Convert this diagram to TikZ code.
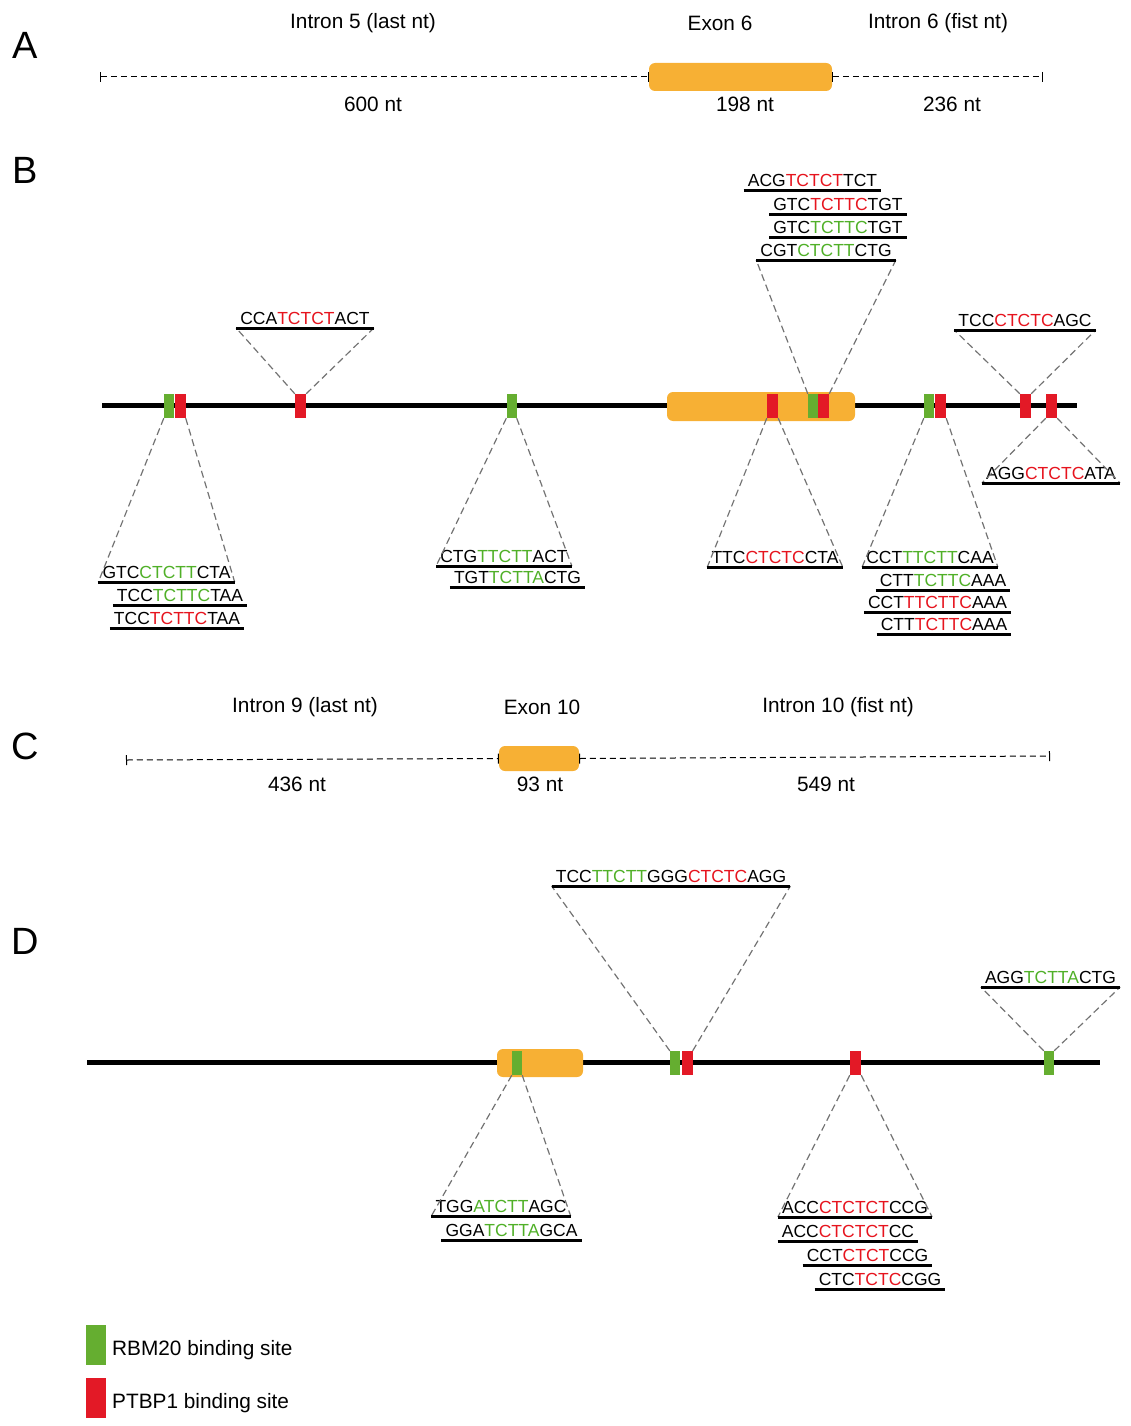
\documentclass[tikz,border=0pt]{standalone}
\usepackage{fontspec}
\setmainfont{Liberation Sans}
\usetikzlibrary{arrows.meta,positioning}
\definecolor{exorange}{RGB}{247,176,52}
\definecolor{rbmgreen}{RGB}{101,174,48}
\definecolor{ptbred}{RGB}{227,25,38}
\definecolor{rbmtext}{RGB}{80,176,40}
\definecolor{ptbtext}{RGB}{230,20,30}
\definecolor{zoomgray}{RGB}{115,115,115}
\newcommand{\rbmseq}[1]{\textcolor{rbmtext}{#1}}
\newcommand{\ptbseq}[1]{\textcolor{ptbtext}{#1}}
\tikzset{
  panel/.style={font=\fontsize{38}{40}\selectfont, inner sep=0pt},
  hdr/.style={font=\fontsize{20.8}{23}\selectfont, inner sep=0pt},
  seqlbl/.style={font=\fontsize{17.5}{19}\selectfont, inner xsep=4pt, inner ysep=3pt, anchor=south},
  uline/.style={line width=3pt},
  backbone/.style={line width=5pt},
  intron/.style={dash pattern=on 6pt off 4pt, line width=1pt, {Bar[width=10pt]}-{Bar[width=10pt]}},
  exon/.style={fill=exorange, rounded corners=6pt, inner sep=0pt},
  rbm/.style={fill=rbmgreen, minimum width=10pt, minimum height=24pt, inner sep=0pt},
  ptb/.style={fill=ptbred, minimum width=11pt, minimum height=24pt, inner sep=0pt},
  zoomln/.style={draw=zoomgray, dash pattern=on 7pt off 4pt, line width=1.2pt},
  legbox/.style={minimum width=20pt, minimum height=40pt, inner sep=0pt}
}

\begin{document}
\begin{tikzpicture}[x=1pt, y=-1pt]
  \useasboundingbox (0,0) rectangle (1131,1426);

  % panel letters
  \node[panel] (pA) at (25,45) {A};
  \node[panel] (pB) at (25,170) {B};
  \node[panel] (pC) at (25,746) {C};
  \node[panel] (pD) at (25,941) {D};

  % ---- A: exon 6 region
  \node[hdr] (hA1) at (363,23) {Intron 5 (last nt)};
  \node[hdr] (hA2) at (720,23) {Exon 6};
  \node[hdr] (hA3) at (938,23) {Intron 6 (fist nt)};
  \node[exon, minimum width=183pt, minimum height=28pt] (exA) at (740.5,77) {};
  \coordinate (aL) at (100,77);
  \coordinate (aR) at (1043,77);
  \draw[intron] (aL) -- (exA.west);
  \draw[intron] (exA.east) -- (aR);
  \node[hdr] (nA1) at (373,104) {600 nt};
  \node[hdr] (nA2) at (745,104) {198 nt};
  \node[hdr] (nA3) at (952,104) {236 nt};

  % ---- B: binding sites around exon 6
  \coordinate (bL) at (102,405);
  \coordinate (bR) at (1077,405);
  \draw[backbone] (bL) -- (bR);
  \node[exon, minimum width=188pt, minimum height=29pt] (exB) at (761,406.5) {};
  \node[rbm] (b1g) at (169,406) {};
  \node[ptb] (b1r) at (180,406) {};
  \node[ptb] (b2r) at (300.5,406) {};
  \node[rbm] (b3g) at (511.5,406) {};
  \node[ptb] (b4r) at (772.5,406) {};
  \node[rbm] (b5g) at (813,406) {};
  \node[ptb] (b5r) at (823.5,406) {};
  \node[rbm] (b6g) at (929,406) {};
  \node[ptb] (b6r) at (940.5,406) {};
  \node[ptb] (b7r) at (1025.5,406) {};
  \node[ptb] (b8r) at (1051.5,406) {};

  \node[seqlbl] (sB1a) at (166.5,582) {GTC\rbmseq{CTCTT}CTA};
  \node[seqlbl] (sB1b) at (180,605) {TCC\rbmseq{TCTTC}TAA};
  \node[seqlbl] (sB1c) at (177,628) {TCC\ptbseq{TCTTC}TAA};
  \node[seqlbl] (sB2) at (305,328) {CCA\ptbseq{TCTCT}ACT};
  \node[seqlbl] (sB3a) at (504,566) {CTG\rbmseq{TTCTT}ACT};
  \node[seqlbl] (sB3b) at (517.5,587) {TGT\rbmseq{TCTTA}CTG};
  \node[seqlbl] (sB4) at (775,567) {TTC\ptbseq{CTCTC}CTA};
  \node[seqlbl] (sB5a) at (812.5,190) {ACG\ptbseq{TCTCT}TCT};
  \node[seqlbl] (sB5b) at (838,214) {GTC\ptbseq{TCTTC}TGT};
  \node[seqlbl] (sB5c) at (838,237) {GTC\rbmseq{TCTTC}TGT};
  \node[seqlbl] (sB5d) at (826,260) {CGT\rbmseq{CTCTT}CTG};
  \node[seqlbl] (sB6a) at (930,567) {CCT\rbmseq{TTCTT}CAA};
  \node[seqlbl] (sB6b) at (943,590) {CTT\rbmseq{TCTTC}AAA};
  \node[seqlbl] (sB6c) at (937.5,612) {CCT\ptbseq{TTCTTC}AAA};
  \node[seqlbl] (sB6d) at (944,634) {CTT\ptbseq{TCTTC}AAA};
  \node[seqlbl] (sB7) at (1025,330) {TCC\ptbseq{CTCTC}AGC};
  \node[seqlbl] (sB8) at (1051,483) {AGG\ptbseq{CTCTC}ATA};

  \draw[zoomln] (b1g.south west) -- (sB1a.south west) (b1r.south east) -- (sB1a.south east);
  \draw[zoomln] (b2r.north west) -- (sB2.south west) (b2r.north east) -- (sB2.south east);
  \draw[zoomln] (b3g.south west) -- (sB3a.south west) (b3g.south east) -- (sB3a.south east);
  \draw[zoomln] (b4r.south west) -- (sB4.south west) (b4r.south east) -- (sB4.south east);
  \draw[zoomln] (b5g.north west) -- (sB5d.south west) (b5r.north east) -- (sB5d.south east);
  \draw[zoomln] (b6g.south west) -- (sB6a.south west) (b6r.south east) -- (sB6a.south east);
  \draw[zoomln] (b7r.north west) -- (sB7.south west) (b7r.north east) -- (sB7.south east);
  \draw[zoomln] (b8r.south west) -- (sB8.south west) (b8r.south east) -- (sB8.south east);

  % ---- C: exon 10 region
  \node[hdr] (hC1) at (305,707) {Intron 9 (last nt)};
  \node[hdr] (hC2) at (542,707) {Exon 10};
  \node[hdr] (hC3) at (838,707) {Intron 10 (fist nt)};
  \node[exon, minimum width=80pt, minimum height=25pt] (exC) at (539,758.5) {};
  \coordinate (cL) at (126,760);
  \coordinate (cR) at (1050,756);
  \draw[intron] (cL) -- (exC.west);
  \draw[intron] (exC.east) -- (cR);
  \node[hdr] (nC1) at (297,784) {436 nt};
  \node[hdr] (nC2) at (540,784) {93 nt};
  \node[hdr] (nC3) at (826,784) {549 nt};

  % ---- D: binding sites around exon 10
  \coordinate (dL) at (87,1062);
  \coordinate (dR) at (1100,1062);
  \draw[backbone] (dL) -- (dR);
  \node[exon, minimum width=86pt, minimum height=28pt] (exD) at (540,1063) {};
  \node[rbm] (d1g) at (517,1063) {};
  \node[rbm] (d2g) at (675,1063) {};
  \node[ptb] (d2r) at (687,1063) {};
  \node[ptb] (d3r) at (855.5,1063) {};
  \node[rbm] (d4g) at (1049,1063) {};

  \node[seqlbl] (sD1a) at (501,1216) {TGG\rbmseq{ATCTT}AGC};
  \node[seqlbl] (sD1b) at (511.5,1240) {GGA\rbmseq{TCTTA}GCA};
  \node[seqlbl] (sD2) at (671,886) {TCC\rbmseq{TTCTT}GGG\ptbseq{CTCTC}AGG};
  \node[seqlbl] (sD3a) at (855,1217) {ACC\ptbseq{CTCTCT}CCG};
  \node[seqlbl] (sD3b) at (848,1241) {ACC\ptbseq{CTCTCT}CC};
  \node[seqlbl] (sD3c) at (867.5,1265) {CCT\ptbseq{CTCT}CCG};
  \node[seqlbl] (sD3d) at (880,1289) {CTC\ptbseq{TCTC}CGG};
  \node[seqlbl] (sD4) at (1050.5,987) {AGG\rbmseq{TCTTA}CTG};

  \draw[zoomln] (d1g.south west) -- (sD1a.south west) (d1g.south east) -- (sD1a.south east);
  \draw[zoomln] (d2g.north west) -- (sD2.south west) (d2r.north east) -- (sD2.south east);
  \draw[zoomln] (d3r.south west) -- (sD3a.south west) (d3r.south east) -- (sD3a.south east);
  \draw[zoomln] (d4g.north west) -- (sD4.south west) (d4g.north east) -- (sD4.south east);

  % underlines
  \foreach \n in {sB1a,sB1b,sB1c,sB2,sB3a,sB3b,sB4,sB5a,sB5b,sB5c,sB5d,sB6a,sB6b,sB6c,sB6d,sB7,sB8,
                  sD1a,sD1b,sD2,sD3a,sD3b,sD3c,sD3d,sD4}
    \draw[uline] (\n.south west) -- (\n.south east);

  % legend
  \node[legbox, fill=rbmgreen] (lgR) at (96,1345) {};
  \node[legbox, fill=ptbred] (lgP) at (96,1398) {};
  \node[hdr, anchor=west] (lgRt) at (112,1350) {RBM20 binding site};
  \node[hdr, anchor=west] (lgPt) at (112,1403) {PTBP1 binding site};
\end{tikzpicture}
\end{document}
